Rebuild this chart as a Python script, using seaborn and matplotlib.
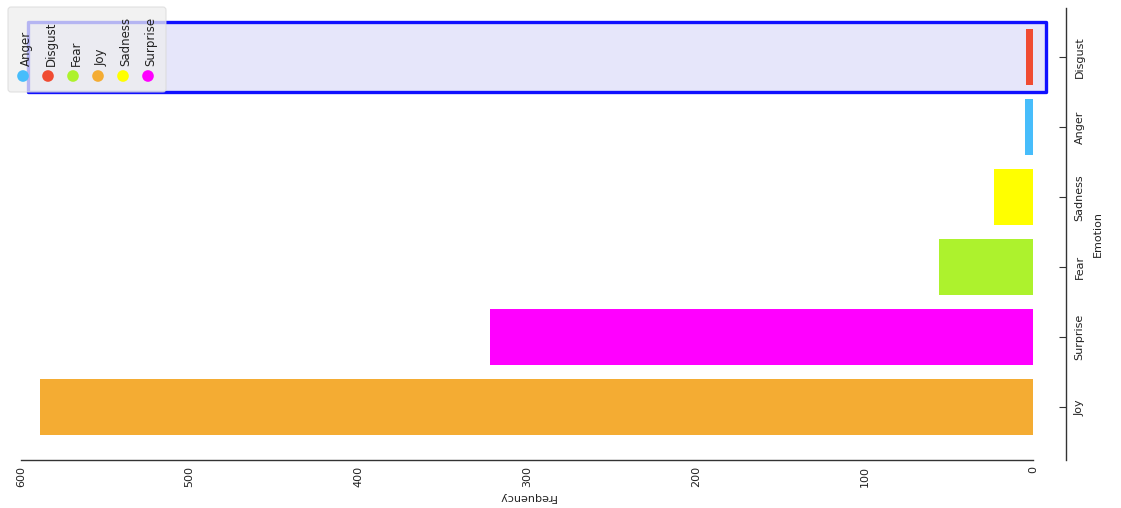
import matplotlib
matplotlib.use("Agg")
import matplotlib.pyplot as plt
from matplotlib.patches import Rectangle, FancyBboxPatch
import seaborn as sns
import pandas as pd

# Emotion frequencies, ordered as drawn from top to bottom
emotions = ["Disgust", "Anger", "Sadness", "Fear", "Surprise", "Joy"]
frequencies = [4, 5, 23, 56, 322, 589]

# Legend entries (alphabetical) and their colours
legend_labels = ["Anger", "Disgust", "Fear", "Joy", "Sadness", "Surprise"]
legend_colors = ["#47bdfb", "#f04b32", "#adf22d", "#f4ac33", "#ffff00", "#ff00ff"]
palette = dict(zip(legend_labels, legend_colors))

x_ticks = [0, 100, 200, 300, 400, 500, 600]
highlighted = "Disgust"

sns.set_theme(style="white")
plt.rcParams["font.family"] = ["DejaVu Sans"]

W, H = 1121, 508
fig = plt.figure(figsize=(W / 100, H / 100), dpi=100)
fig.patch.set_facecolor("white")

def px(x0, y0, x1, y1):
    return [x0 / W, 1 - y1 / H, (x1 - x0) / W, (y1 - y0) / H]

ax = fig.add_axes(px(21, 8, 1033, 460))

df = pd.DataFrame({"Emotion": emotions, "Frequency": frequencies})
sns.barplot(data=df, x="Frequency", y="Emotion", hue="Emotion", palette=palette,
            order=emotions, orient="h", width=0.8, saturation=1, legend=False,
            ax=ax, linewidth=0, zorder=3)

# selection box around the highlighted category
hi = emotions.index(highlighted)
ax.add_patch(Rectangle((-8, hi - 0.5), 604, 1.0, facecolor="#e6e6fa",
                       edgecolor="#1010ff", linewidth=2.4, clip_on=False,
                       zorder=2, joinstyle="round"))

# spines first: moving a spine rebuilds the tick objects
for s in ("top", "left"):
    ax.spines[s].set_visible(False)
for s in ("bottom", "right"):
    ax.spines[s].set_visible(True)
    ax.spines[s].set_color("#333333")
    ax.spines[s].set_linewidth(1.0)
ax.spines["right"].set_position(("outward", 24))

ax.set_xlim(600, 0)
ax.set_ylim(5.75, -0.7)
ax.yaxis.tick_right()
ax.yaxis.set_label_position("right")
ax.tick_params(axis="both", direction="in", length=5, width=0.8,
               color="#333333", labelsize=8, labelcolor="#222222")
ax.tick_params(axis="x", pad=4)
ax.tick_params(axis="y", pad=6)
ax.set_xticks(x_ticks, [str(t) for t in x_ticks], rotation=90)
ax.set_yticks(range(len(emotions)), emotions, rotation=90, va="center",
              ha="left")

ax.set_xlabel("Frequency", rotation=180, fontsize=8, color="#222222",
              labelpad=4)
ax.set_ylabel("Emotion", rotation=90, fontsize=8, color="#222222",
              labelpad=6)

# legend panel drawn in pixel space
lg = fig.add_axes([0, 0, 1, 1], facecolor="none")
lg.set_xlim(0, W)
lg.set_ylim(H, 0)
lg.axis("off")
lg.add_patch(FancyBboxPatch((8, 7), 158, 85, boxstyle="round,pad=0,rounding_size=3",
                            facecolor="#eeeeee", edgecolor="#d8d8d8",
                            linewidth=0.8, alpha=0.75, zorder=5))
for i, (lab, col) in enumerate(zip(legend_labels, legend_colors)):
    cx = 23 + i * 25
    lg.scatter([cx], [76], s=70, color=col, edgecolor="none", zorder=6)
    lg.text(cx + 3, 66, lab, rotation=90, ha="center", va="bottom",
            fontsize=8.5, color="#222222", zorder=7)

fig.savefig("out.png", dpi=100, facecolor="white")
